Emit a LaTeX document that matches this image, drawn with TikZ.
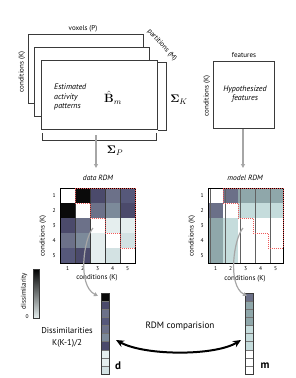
\documentclass[tikz,border=0pt]{standalone}
\usepackage[no-math]{fontspec}
\setmainfont{PT Sans}
\usepackage{amsmath}
\usetikzlibrary{arrows.meta}
\definecolor{dK}{HTML}{0A0A0A}
\definecolor{dA}{HTML}{4B4A6B}
\definecolor{dB}{HTML}{6C7189}
\definecolor{dC}{HTML}{56587A}
\definecolor{dD}{HTML}{7C8A9A}
\definecolor{dE}{HTML}{E5EEEE}
\definecolor{dF}{HTML}{D3E2E3}
\definecolor{mA}{HTML}{6B7088}
\definecolor{mT}{HTML}{8FA7AA}
\definecolor{mL}{HTML}{C5DCDC}
\definecolor{frame}{HTML}{3A3A3A}
\definecolor{arrgray}{HTML}{A6A6A6}
\definecolor{reddot}{HTML}{F05A5A}
\tikzset{
  lbl/.style={inner sep=0pt, font=\fontsize{7}{8}\selectfont},
  ital/.style={inner sep=0pt, font=\fontsize{8}{9.5}\selectfont\itshape, align=left},
  num/.style={inner sep=0pt, font=\fontsize{5.5}{6}\selectfont},
  sheet/.style={draw=frame, line width=0.8pt, fill=white},
  grayarrow/.style={draw=arrgray, line width=1.2pt, -{Triangle[length=4pt,width=4pt]}},
  cellgrid/.style={draw=frame, line width=0.4pt},
  stairs/.style={draw=reddot, line width=1pt, dash pattern=on 1pt off 1pt},
}
\begin{document}
\begin{tikzpicture}[x=1pt,y=-1pt]
\useasboundingbox (0,0) rectangle (296,378);
% stacked sheets
\draw[sheet] (28,34) rectangle (143,103);
\draw[sheet] (34,47) rectangle (149,116);
\draw[sheet] (41,60) rectangle (157,129);
\node[lbl] (vox) at (83,29) {voxels (P)};
\node[lbl, rotate=-48] (part) at (162,45) {partitions (M)};
\node[lbl, rotate=90] (condA) at (22,72) {conditions (K)};
\node[ital, anchor=west] (est) at (54,97) {Estimated\\activity\\patterns};
\node[inner sep=0pt, font=\fontsize{12}{13}\selectfont] (B) at (113,98) {$\hat{\mathbf{B}}_m$};
% brackets
\draw[frame, line width=0.8pt] (158,62) -- (166,62) -- (166,130) -- (158,130);
\draw[frame, line width=0.8pt] (42,133) -- (42,140) -- (156,140) -- (156,133);
\node[inner sep=0pt, font=\fontsize{11}{12}\selectfont] (SK) at (179,100) {$\mathbf{\Sigma}_K$};
\node[inner sep=0pt, font=\fontsize{11}{12}\selectfont] (SP) at (115,151) {$\mathbf{\Sigma}_P$};
% features box
\draw[sheet] (213,61) rectangle (274,128);
\node[lbl] (feat) at (244,55) {features};
\node[lbl, rotate=90] (condB) at (207,96) {conditions (K)};
\node[ital, align=center] (hyp) at (245,94) {Hypothesized\\features};
% gray arrows
\coordinate (a1s) at (96,135);
\node[inner sep=0pt, font=\fontsize{7.5}{8}\selectfont\itshape] (dtitle) at (98,178) {data RDM};
\coordinate (a1e) at (96,168);
\draw[grayarrow] (a1s) -- (a1e);
\coordinate (a2s) at (243,129);
\coordinate (a2e) at (243,168);
\node[inner sep=0pt, font=\fontsize{7.5}{8}\selectfont\itshape] (mtitle) at (245,178) {model RDM};
\draw[grayarrow] (a2s) -- (a2e);
% data RDM
\foreach \row [count=\i] in {{white,dK,dA,dB,dC},{dK,white,dB,dD,dA},{dA,dB,white,dE,dE},{dB,dD,dE,white,dF},{dC,dA,dE,dF,white}}{
  \foreach \col [count=\j] in \row {
    \fill[\col] ({60+15*(\j-1)},{188+15*(\i-1)}) rectangle ++(15,15);
  }
}
\draw[cellgrid] (60,188) grid[step=15] (135,263);
\draw[black, line width=0.7pt] (60,188) rectangle (135,263);
\draw[stairs] (75,188) -- (135,188) -- (135,248) -- (120,248) -- (120,233) -- (105,233) -- (105,218) -- (90,218) -- (90,203) -- (75,203) -- cycle;
\foreach \k in {1,...,5}{
  \node[num] at (54,{195.5+15*(\k-1)}) {\k};
  \node[num] at ({67.5+15*(\k-1)},269) {\k};
}
\node[lbl, rotate=90] (condC) at (43,236) {conditions (K)};
\node[lbl] (condD) at (97,278) {conditions (K)};
% model RDM
\foreach \row [count=\i] in {{white,mA,mT,mT,mT},{mA,white,mL,mL,mL},{mT,mL,white,white,white},{mT,mL,white,white,white},{mT,mL,white,white,white}}{
  \foreach \col [count=\j] in \row {
    \fill[\col] ({208+15*(\j-1)},{188+15*(\i-1)}) rectangle ++(15,15);
  }
}
\draw[frame!80, line width=0.4pt] (208,188) grid[step=15] (283,263);
\draw[black, line width=0.7pt] (208,188) rectangle (283,263);
\draw[stairs] (223,188) -- (283,188) -- (283,248) -- (268,248) -- (268,233) -- (253,233) -- (253,218) -- (238,218) -- (238,203) -- (223,203) -- cycle;
\foreach \k in {1,...,5}{
  \node[num] at (202,{195.5+15*(\k-1)}) {\k};
  \node[num] at ({215.5+15*(\k-1)},269) {\k};
}
\node[lbl, rotate=90] (condE) at (192,236) {conditions (K)};
\node[lbl] (condF) at (245,279) {conditions (K)};
% colorbar
\shade[top color=black, bottom color=dE] (33,269) rectangle (39,318);
\draw[frame, line width=0.5pt] (33,269) rectangle (39,318);
\node[lbl, rotate=90] (dis) at (24,291) {dissimilarity};
\node[num] (zero) at (27,317) {0};
% vectors
\foreach \col [count=\k] in {dK,dA,dB,dC,dB,dD,dA,dE,dE,dF}{
  \fill[\col] (101,{293+8.1*(\k-1)}) rectangle ++(8,8.1);
  \draw[frame!70, line width=0.4pt] (101,{293+8.1*(\k-1)}) rectangle ++(8,8.1);
}
\draw[frame, line width=0.6pt] (101,293) rectangle (109,374);
\foreach \col [count=\k] in {mA,mT,mT,mT,mL,mL,mL,white,white,white}{
  \fill[\col] (245,{293+8.1*(\k-1)}) rectangle ++(8,8.1);
  \draw[frame!70, line width=0.4pt] (245,{293+8.1*(\k-1)}) rectangle ++(8,8.1);
}
\draw[frame, line width=0.6pt] (245,293) rectangle (253,374);
\node[inner sep=0pt, font=\fontsize{11}{12}\selectfont\bfseries] (dlab) at (118,366) {d};
\node[inner sep=0pt, font=\fontsize{11}{12}\selectfont\bfseries] (mlab) at (265,366) {m};
\node[inner sep=0pt, font=\fontsize{8.5}{12}\selectfont, align=center] (dissim) at (67,337) {Dissimilarities\\K(K-1)/2};
\node[inner sep=0pt, font=\fontsize{9.2}{10}\selectfont] (cmp) at (180,326) {RDM comparision};
% gray curves
\coordinate (c1s) at (93,228);
\coordinate (c1e) at (98,296);
\draw[grayarrow] (c1s) .. controls (84,238) and (77,285) .. (c1e);
\coordinate (c2s) at (243,228);
\coordinate (c2e) at (247,296);
\draw[grayarrow] (c2s) .. controls (234,238) and (227,285) .. (c2e);
% black double arrow
\coordinate (bl) at (116,340);
\coordinate (br) at (241,340);
\draw[black, line width=2pt, {Stealth[length=8pt,width=7pt]}-{Stealth[length=8pt,width=7pt]}] (bl) .. controls (145,356) and (215,356) .. (br);
\end{tikzpicture}
\end{document}
